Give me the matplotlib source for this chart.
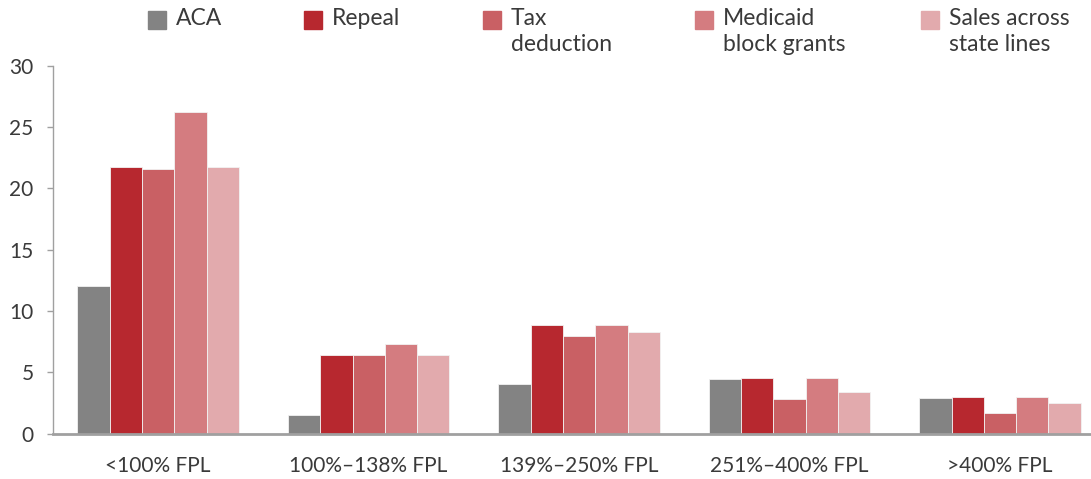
import numpy as np
import matplotlib
matplotlib.use("Agg")
import matplotlib.pyplot as plt
from matplotlib.patches import Rectangle

# Data (percent uninsured)
categories = ["<100% FPL", "100%\u2013138% FPL", "139%\u2013250% FPL",
              "251%\u2013400% FPL", ">400% FPL"]
series_names = ["ACA", "Repeal", "Tax\ndeduction", "Medicaid\nblock grants",
                "Sales across\nstate lines"]
aca = [12.0, 1.5, 4.0, 4.45, 2.9]
repeal = [21.7, 6.4, 8.85, 4.55, 3.0]
tax_deduction = [21.6, 6.4, 7.95, 2.85, 1.7]
medicaid_block = [26.2, 7.3, 8.85, 4.55, 3.0]
sales_state_lines = [21.7, 6.4, 8.25, 3.4, 2.5]
yticks = [0, 5, 10, 15, 20, 25, 30]

series = [aca, repeal, tax_deduction, medicaid_block, sales_state_lines]
colors = ["#838383", "#B7282F", "#C96064", "#D47C80", "#E2AAAD"]

plt.rcParams['font.family'] = ['Lato', 'DejaVu Sans']
text_col = "#3a3a3a"

W, H = 1091, 479
fig = plt.figure(figsize=(W / 100, H / 100), dpi=100)
ax = fig.add_axes([53 / W, (H - 433.5) / H, (W - 53) / W, (433.5 - 65.7) / H])

x = np.arange(len(categories))
bw = 0.1535
for k, (vals, col) in enumerate(zip(series, colors)):
    ax.bar(x + (k - 2) * bw, vals, width=bw, color=col,
           edgecolor="#f2f2f2", linewidth=0.6)

ax.set_xlim(-0.5, (W - 158) / 210.5)
ax.set_ylim(0, 30)
ax.set_yticks(yticks)
ax.set_xticks(x)
ax.set_xticklabels(categories)

for s in ["top", "right"]:
    ax.spines[s].set_visible(False)
ax.spines["left"].set_color("#a0a0a0")
ax.spines["left"].set_linewidth(1.0)
ax.spines["bottom"].set_color("#a0a0a0")
ax.spines["bottom"].set_linewidth(2.0)

ax.tick_params(axis="x", length=0, pad=16, labelsize=15, colors=text_col)
ax.tick_params(axis="y", length=4, width=1.0, color="#a0a0a0", pad=10,
               labelsize=15, labelcolor=text_col)

# legend drawn by hand across the top
sq_left = [148, 304, 483, 695, 921]
sq = 18
for left, name, col in zip(sq_left, series_names, colors):
    fig.add_artist(Rectangle((left / W, (H - 11 - sq) / H), sq / W, sq / H,
                             transform=fig.transFigure, color=col))
    fig.text((left + 28) / W, (H - 8) / H, name, ha="left", va="top",
             fontsize=16.5, color=text_col, linespacing=1.3)

fig.savefig("out.png", dpi=100)
